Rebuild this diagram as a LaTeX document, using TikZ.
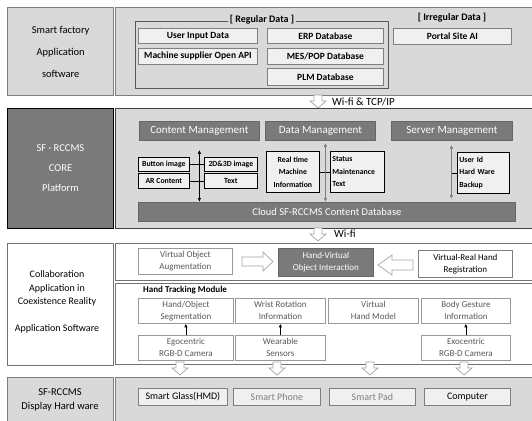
\documentclass[tikz,border=0pt]{standalone}
\usepackage{fontspec}
\setmainfont{Carlito}
\usetikzlibrary{arrows.meta,calc}
\definecolor{bgA}{HTML}{D9D9D9}
\definecolor{inA}{HTML}{F0F0F0}
\definecolor{dk}{HTML}{7A7A7A}
\definecolor{ln}{HTML}{7F7F7F}
\definecolor{tg}{HTML}{595959}
\newcommand\mybox[7][]{\node[box,#1,minimum width={#4pt-#2pt},minimum height={#5pt-#3pt}] (#6) at (#2,#3) {#7};}
\newcommand\fsz[2]{\fontsize{#1}{#2}\selectfont}
\begin{document}
\begin{tikzpicture}[x=1pt,y=-1pt,
  box/.style={rectangle,anchor=north west,inner sep=0pt,align=center},
  secA/.style={draw=ln,line width=1.3pt,fill=bgA},
  secW/.style={draw=ln!90!black,line width=1pt,fill=white},
  inbox/.style={draw=ln,line width=0.8pt,fill=inA,font=\bfseries\fsz{9.5}{11}},
  mgmt/.style={draw=black!60,line width=0.8pt,fill=dk,text=white,font=\fsz{11}{13}},
  smallb/.style={draw=black,line width=0.7pt,fill=inA,font=\bfseries\fsz{7.8}{12.5}},
  grayb/.style={draw=ln!80,line width=0.8pt,fill=white,text=tg,font=\fsz{9}{12}},
  botb/.style={draw=ln,line width=0.8pt,fill=inA,font=\fsz{10}{12}},
  hollow/.style={draw=ln!70,line width=0.7pt,fill=white},
  darr/.pic={\draw[hollow] (-4,0) -- (4,0) -- (4,6) -- (8,6) -- (0,13) -- (-8,6) -- (-4,6) -- cycle;},
]
\useasboundingbox (0,0) rectangle (532,420);
% ---------- section 1
\mybox[secA,font=\fsz{10.5}{22}]{7}{7}{113}{95}{s1L}{Smart factory\\Application\\software}
\mybox[secA]{115}{7}{536}{95}{s1R}{}
\draw[draw=black!65,line width=0.8pt] (135,21) rectangle (388,88);
\node[fill=bgA,inner sep=1.5pt,font=\bfseries\fsz{10}{11}] (reglab) at (262,20) {[ Regular Data ]};
\node[inner sep=1pt,font=\bfseries\fsz{10}{11}] (irrlab) at (452,18) {[ Irregular Data ]};
\mybox[inbox]{138}{28}{257}{43}{uid}{User Input Data}
\mybox[inbox]{138}{48}{257}{64}{msa}{Machine supplier Open API}
\mybox[inbox]{267}{28}{383}{43}{erp}{ERP Database}
\mybox[inbox]{267}{48}{383}{64}{mes}{MES/POP Database}
\mybox[inbox]{267}{68}{383}{85}{plm}{PLM Database}
\mybox[inbox]{393}{28}{511}{44}{portal}{Portal Site AI}
% arrow 1
\pic at (318,95) {darr};
\node[anchor=west,inner sep=0pt,font=\fsz{11}{12}] (wifi1) at (332,102) {Wi-fi \& TCP/IP};
% ---------- section 2
\mybox[draw=black,line width=1pt,fill=dk,text=white,font=\fsz{10.5}{20}]{7}{108}{113}{228}{s2L}{SF · RCCMS\\CORE\\Platform}
\mybox[fill=bgA,draw=black!75,line width=1pt]{115}{108}{536}{228}{s2R}{}
\mybox[mgmt]{139}{121}{259}{140}{cm}{Content Management}
\mybox[mgmt]{265}{121}{375}{140}{dm}{Data Management}
\mybox[mgmt]{391}{121}{512}{140}{sm}{Server Management}
\mybox[mgmt,font=\fsz{10.5}{12}]{138}{202}{515}{221}{cloud}{Cloud SF-RCCMS Content Database}
\mybox[smallb]{138}{157}{189}{171}{bi}{Button image}
\mybox[smallb]{204}{157}{257}{171}{dd}{2D\&3D image}
\mybox[smallb]{138}{173}{189}{188}{arc}{AR Content}
\mybox[smallb]{204}{173}{257}{188}{txt}{Text}
\mybox[smallb]{266}{151}{319}{192}{rt}{Real time\\Machine\\Information}
\mybox[smallb,align=left,text width=50pt,inner xsep=2pt]{330}{151}{384}{192}{st}{Status\\Maintenance\\Text}
\mybox[smallb,align=left,text width=48pt,inner xsep=2pt]{457}{152}{509}{193}{ui}{User Id\\Hard Ware\\Backup}
\draw[line width=0.7pt] (bi) -- (dd);
\draw[line width=0.7pt] (arc) -- (txt);
\draw[line width=0.7pt] (rt) -- (st);
\coordinate (smx) at ($(sm.south)+(-0.5,0)$);
\draw[line width=0.7pt] (ui.west) -- (ui.west -| smx);
\draw[{Latex[length=4pt,width=3.5pt]}-{Latex[length=4pt,width=3.5pt]},line width=0.8pt] ($(cm.south)+(0,9)$) -- (cm.south |- cloud.north);
\coordinate (dmx) at ($(dm.south)+(5,0)$);
\draw[{Latex[length=4pt,width=3.5pt]}-{Latex[length=4pt,width=3.5pt]},line width=0.8pt,draw=ln] ($(dmx)+(0,2)$) -- (dmx |- cloud.north);
\draw[{Latex[length=4pt,width=3.5pt]}-{Latex[length=4pt,width=3.5pt]},line width=0.8pt,draw=ln] ($(smx)+(0,4)$) -- ($(smx |- cloud.north)+(0,-3)$);
% arrow 2
\pic at (318,228) {darr};
\node[anchor=west,inner sep=0pt,font=\fsz{11}{12}] (wifi2) at (334,234) {Wi-fi};
% ---------- section 3
\mybox[secW]{7}{243}{113}{365}{s3L}{}
\node[align=center,inner sep=0pt,font=\fsz{10}{13.5}] (s3Lt) at (57,302) {Collaboration\\Application in\\Coexistence Reality\\[13.5pt]Application Software};
\mybox[secW]{115}{243}{536}{280}{s3A}{}
\mybox[secW]{115}{283}{536}{364}{s3B}{}
\mybox[grayb]{138}{248}{232}{274}{voa}{Virtual Object\\Augmentation}
\mybox[draw=black!60,line width=0.8pt,fill=dk,text=white,font=\fsz{9}{12}]{278}{248}{373}{276}{hvo}{Hand-Virtual\\Object Interaction}
\mybox[grayb,text=black,draw=ln]{418}{250}{512}{277}{vrh}{Virtual-Real Hand\\Registration}
\draw[hollow] (242,257) -- (263,257) -- (263,252) -- (273,261.5) -- (263,271) -- (263,266) -- (242,266) -- cycle;
\draw[hollow] (413,260) -- (392,260) -- (392,255) -- (378,265) -- (392,275) -- (392,270) -- (413,270) -- cycle;
\node[anchor=west,inner sep=0pt,font=\bfseries\fsz{9}{11}] (htm) at (143,290) {Hand Tracking Module};
\mybox[grayb]{138}{298}{233}{323}{hos}{Hand/Object\\Segmentation}
\mybox[grayb]{235}{298}{325}{323}{wri}{Wrist Rotation\\Information}
\mybox[grayb]{328}{298}{418}{323}{vhm}{Virtual\\Hand Model}
\mybox[grayb]{421}{298}{510}{323}{bgi}{Body Gesture\\Information}
\mybox[grayb]{138}{335}{233}{360}{ego}{Egocentric\\RGB-D Camera}
\mybox[grayb]{235}{335}{325}{360}{wea}{Wearable\\Sensors}
\mybox[grayb]{421}{335}{510}{360}{exo}{Exocentric\\RGB-D Camera}
\draw[-{Latex[length=3.5pt,width=3.5pt]},line width=0.8pt] (ego.north) -- (hos.south);
\draw[-{Latex[length=3.5pt,width=3.5pt]},line width=0.8pt] (wea.north) -- (wri.south);
\draw[-{Latex[length=3.5pt,width=3.5pt]},line width=0.8pt] (exo.north) -- (bgi.south);
% ---------- section 4
\mybox[secA]{7}{377}{113}{425}{s4L}{}
\node[align=center,inner sep=0pt,font=\fsz{10.5}{14}] (s4Lt) at (60,400) {SF-RCCMS\\Display Hard ware};
\mybox[secA]{115}{377}{536}{425}{s4R}{}
\mybox[botb]{138}{388}{227}{405}{sg}{Smart Glass(HMD)}
\mybox[botb,text=ln]{233}{388}{320}{405}{sp}{Smart Phone}
\mybox[botb,text=ln]{329}{388}{415}{405}{spad}{Smart Pad}
\mybox[botb]{424}{388}{510}{405}{comp}{Computer}
\pic at (180,362) {darr};
\pic at (277,362) {darr};
\pic at (370,362) {darr};
\pic at (464,362) {darr};
\end{tikzpicture}
\end{document}
